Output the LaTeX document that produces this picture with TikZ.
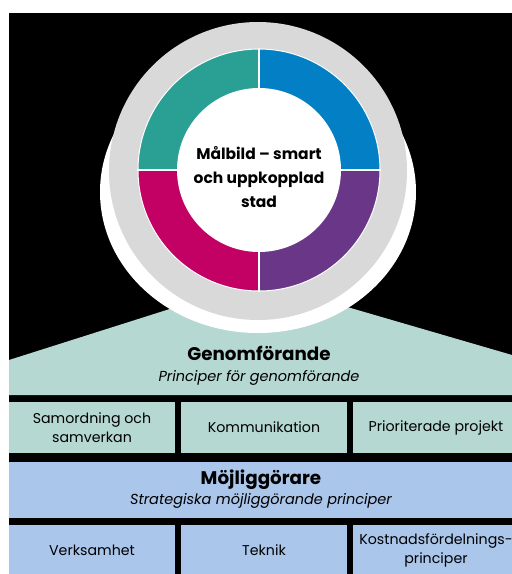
\documentclass[tikz,border=0pt]{standalone}
\usepackage{fontspec}
\setmainfont{Poppins}
\definecolor{ringteal}{HTML}{2A9F94}
\definecolor{ringblue}{HTML}{0380C5}
\definecolor{ringpurple}{HTML}{6A3788}
\definecolor{ringmagenta}{HTML}{C30063}
\definecolor{ringgray}{HTML}{D9D9D9}
\definecolor{genomteal}{HTML}{B5D8D3}
\definecolor{mojlblue}{HTML}{AAC6EA}

\begin{document}
\begin{tikzpicture} [x=1pt, y=-1pt,
every node/.style = {align=center, inner sep=0pt, font=\fontsize{14.2}{19}\selectfont},
head/.style = {font=\fontsize{18.3}{22}\selectfont\bfseries},
sub/.style = {font=\fontsize{14.5}{17}\selectfont\itshape},
tbox/.style = {fill=genomteal, minimum width=166pt, minimum height=51pt},
bbox/.style = {fill=mojlblue, minimum width=166pt, minimum height=51pt}]
\useasboundingbox (0,0) rectangle (512,574);
\clip (0,0) rectangle (512,574);
\fill[black] (9,13) rectangle (512,574);

% roof and header bands
\fill[genomteal] (9,360) -- (258,281) -- (512,355) -- (512,395) -- (9,395) -- cycle;
\fill[mojlblue] (9,462) rectangle (512,518);

% target circle
\fill[white] (258,192) ellipse [x radius=158, y radius=141];
\fill[ringgray] (258,171) circle [radius=149];
\coordinate (c) at (259,170);
\fill[ringteal] (c) -- ++(180:121) arc [start angle=180, end angle=270, radius=121] -- cycle;
\fill[ringblue] (c) -- ++(270:121) arc [start angle=270, end angle=360, radius=121] -- cycle;
\fill[ringpurple] (c) -- ++(0:121) arc [start angle=0, end angle=90, radius=121] -- cycle;
\fill[ringmagenta] (c) -- ++(90:121) arc [start angle=90, end angle=180, radius=121] -- cycle;
\draw[white, line width=2.5pt] (259,48) -- (259,292) (137,170) -- (381,170);
\draw[white, line width=1pt] (c) circle [radius=121];
\fill[white] (c) circle [radius=82];
\node[font=\fontsize{15.5}{24}\selectfont\bfseries] (malbild) at (259,177) {Målbild – smart\\och uppkopplad\\stad};

% Genomförande
\node[head, anchor=base] (genom) at (259,360) {Genomförande};
\node[sub, anchor=base] (genomsub) at (259,381) {Principer för genomförande};
\node[tbox] (samordning) at (92,427.5) {Samordning och\\samverkan};
\node[tbox] (kommunikation) at (264,427.5) {Kommunikation};
\node[tbox] (prioriterade) at (436,427.5) {Prioriterade projekt};

% Möjliggörare
\node[head, anchor=base] (mojl) at (261,484) {Möjliggörare};
\node[sub, anchor=base] (mojlsub) at (261,504) {Strategiska möjliggörande principer};
\node[bbox] (verksamhet) at (92,550.5) {Verksamhet};
\node[bbox] (teknik) at (264,550.5) {Teknik};
\node[bbox] (kostnad) at (436,550.5) {Kostnadsfördelnings-\\principer};
\end{tikzpicture}
\end{document}
